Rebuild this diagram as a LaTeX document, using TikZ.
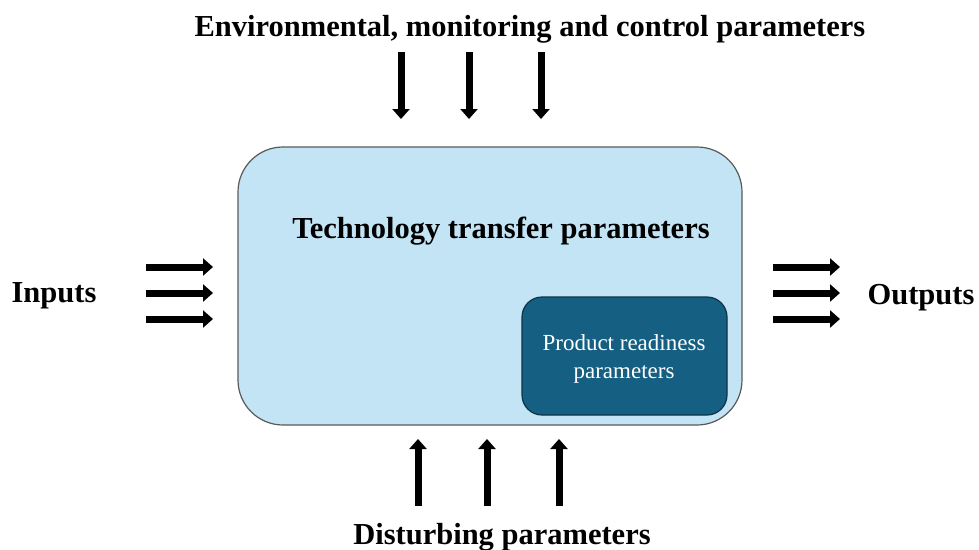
\documentclass[tikz,border=0pt]{standalone}
\usepackage{fontspec}
\setmainfont{Liberation Serif}
\usetikzlibrary{arrows.meta}
\definecolor{outerfill}{HTML}{C2E4F4}
\definecolor{outerline}{HTML}{5A5A5A}
\definecolor{innerfill}{HTML}{156082}
\definecolor{innerline}{HTML}{0E3347}
\begin{document}
\begin{tikzpicture}[x=1pt,y=-1pt,
  blockarrow/.style={line width=7pt,-{Triangle[length=10pt,width=17pt]}},
  lbl/.style={font=\fontsize{30.5}{34}\selectfont\bfseries,inner sep=0pt},
  outerbox/.style={draw=outerline,line width=1.2pt,fill=outerfill,rounded corners=45pt},
  innerbox/.style={draw=innerline,line width=1.2pt,fill=innerfill,rounded corners=20pt}]
\useasboundingbox (0,0) rectangle (979,549);
\fill[white] (0,0) rectangle (979,549);
\draw[outerbox] (238,147) rectangle (742,425);
\node[lbl] (ttp) at (501,231) {Technology transfer parameters};
\draw[innerbox] (522,297) rectangle (727,415);
\node[font=\fontsize{23}{28}\selectfont,text=white,align=center,inner sep=0pt] (prp) at (624,359) {Product readiness\\parameters};
\node[lbl] (env) at (530,29) {Environmental, monitoring and control parameters};
\node[lbl] (inp) at (54,296) {Inputs};
\node[lbl] (out) at (921,298) {Outputs};
\node[lbl] (dist) at (502,537) {Disturbing parameters};
% top arrows
\foreach \i/\xx in {1/401,2/469,3/541}{
  \coordinate (ts\i) at (\xx,52); \coordinate (te\i) at (\xx,119);
  \draw[blockarrow] (ts\i) -- (te\i);}
% bottom arrows
\foreach \i/\xx in {1/418,2/487,3/559}{
  \coordinate (bs\i) at (\xx,506); \coordinate (be\i) at (\xx,439);
  \draw[blockarrow] (bs\i) -- (be\i);}
% left arrows
\foreach \i/\yy in {1/267,2/293,3/319}{
  \coordinate (ls\i) at (146,\yy); \coordinate (le\i) at (213,\yy);
  \draw[blockarrow] (ls\i) -- (le\i);}
% right arrows
\foreach \i/\yy in {1/267,2/293,3/319}{
  \coordinate (rs\i) at (773,\yy); \coordinate (re\i) at (840,\yy);
  \draw[blockarrow] (rs\i) -- (re\i);}
\end{tikzpicture}
\end{document}
